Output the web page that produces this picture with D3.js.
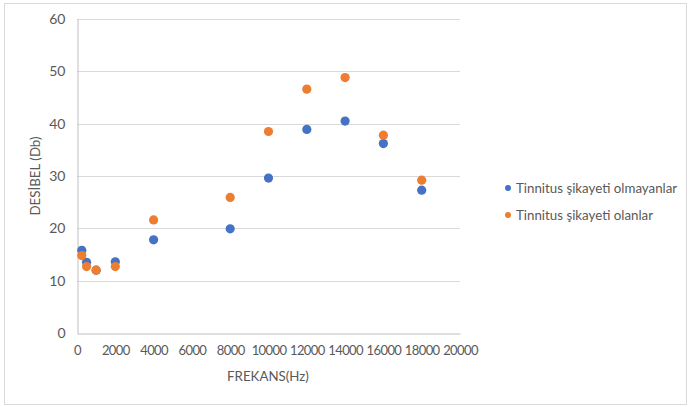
<!DOCTYPE html>
<html><head><meta charset="utf-8">
<script src="https://cdn.jsdelivr.net/npm/d3@7"></script>
<style>body{margin:0;background:#fff}text{font-family:Lato,"Open Sans","Liberation Sans",sans-serif}</style>
</head><body><svg id="c" width="691" height="407"></svg>
<script>
const frequencies = [250, 500, 1000, 2000, 4000, 8000, 10000, 12000, 14000, 16000, 18000];
const withoutTinnitus = [15.8, 13.5, 12.0, 13.6, 17.8, 19.9, 29.6, 38.9, 40.5, 36.2, 27.3];
const withTinnitus = [14.8, 12.7, 12.0, 12.7, 21.6, 25.9, 38.5, 46.6, 48.8, 37.8, 29.2];
const seriesNames = ["Tinnitus şikayeti olmayanlar", "Tinnitus şikayeti olanlar"];
const xTicks = [0,2000,4000,6000,8000,10000,12000,14000,16000,18000,20000];
const yTicks = [0,10,20,30,40,50,60];
const colors = ["#4472C4", "#ED7D31"];

const svg = d3.select("#c");
svg.append("rect").attr("x",4.5).attr("y",3.5).attr("width",682).attr("height",401)
  .attr("fill","#fff").attr("stroke","#d9d9d9");

const x = d3.scaleLinear().domain([0,20000]).range([77,460]);
const y = d3.scaleLinear().domain([0,60]).range([333,19]);
const fs = "13.3px";

const g = svg.append("g");
g.selectAll(".grid").data(yTicks.slice(1)).join("line")
  .attr("x1",x(0)).attr("x2",x(20000)).attr("y1",d=>Math.round(y(d))+0.5).attr("y2",d=>Math.round(y(d))+0.5)
  .attr("stroke","#d9d9d9");
const xAxis = d3.axisBottom(x).tickValues(xTicks).tickSize(0).tickPadding(12).tickFormat(d3.format("d"));
const gx = g.append("g").attr("transform",`translate(0,${Math.round(y(0))+0.5})`).call(xAxis);
gx.select(".domain").attr("stroke","#bfbfbf");
gx.selectAll("text").attr("fill","#595959").attr("font-size","13px").attr("font-family","Lato")
  .attr("letter-spacing","-0.6px");
const yAxis = d3.axisLeft(y).tickValues(yTicks).tickSize(0).tickPadding(12);
const gy = g.append("g").attr("transform",`translate(${Math.round(x(0))+0.5},0)`).call(yAxis);
gy.select(".domain").attr("stroke","#bfbfbf");
gy.selectAll("text").attr("fill","#595959").attr("font-size","14px").attr("font-family","Lato");

svg.append("text").attr("x",268).attr("y",381).attr("text-anchor","middle")
  .attr("fill","#595959").attr("font-size",fs).text("FREKANS(Hz)");
svg.append("text").attr("transform","translate(40,176) rotate(-90)").attr("text-anchor","middle")
  .attr("fill","#595959").attr("font-size",fs).text("DESİBEL (Db)");

const series = [withoutTinnitus, withTinnitus];
series.forEach((vals,i)=>{
  svg.append("g").selectAll("circle").data(frequencies.map((f,j)=>[f,vals[j]])).join("circle")
    .attr("cx",d=>x(d[0])).attr("cy",d=>y(d[1])).attr("r",4.6).attr("fill",colors[i]);
});

const leg = svg.append("g");
seriesNames.forEach((n,i)=>{
  const yy = 188 + i*27;
  leg.append("circle").attr("cx",508).attr("cy",yy).attr("r",3).attr("fill",colors[i]);
  leg.append("text").attr("x",516).attr("y",yy+5).attr("fill","#595959").attr("font-size",fs).text(n);
});
</script></body></html>
